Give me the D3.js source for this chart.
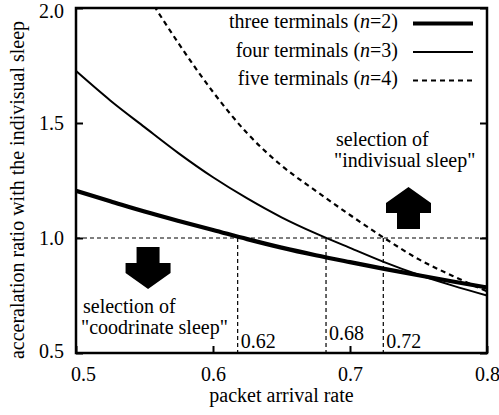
<!DOCTYPE html>
<html>
<head>
<meta charset="utf-8">
<script src="https://cdn.jsdelivr.net/npm/d3@7"></script>
<style>
  html, body { margin: 0; padding: 0; background: #fff; }
  svg { display: block; }
  svg text { font-family: "Liberation Serif", "Times New Roman", Times, "DejaVu Serif", serif; fill: #000; }
</style>
</head>
<body>
<svg id="chart" width="499" height="415"></svg>
<script>
// ---------------- data ----------------
const arrivalRate = [0.500, 0.525, 0.550, 0.575, 0.600, 0.625, 0.650, 0.675, 0.700, 0.725, 0.750, 0.775, 0.800];
const ratioN2 = [1.205, 1.160, 1.115, 1.074, 1.035, 0.995, 0.958, 0.925, 0.895, 0.866, 0.838, 0.811, 0.785];
const ratioN3 = [1.726, 1.598, 1.482, 1.368, 1.264, 1.172, 1.090, 1.020, 0.957, 0.895, 0.840, 0.793, 0.750];
const ratioN4 = [null, null, 2.075, 1.845, 1.635, 1.455, 1.315, 1.205, 1.100, 1.000, 0.908, 0.835, 0.768];
const seriesNames = ["three terminals", "four terminals", "five terminals"];
const seriesN = ["2", "3", "4"];
const xTicks = [0.5, 0.6, 0.7, 0.8];
const yTicks = [0.5, 1.0, 1.5, 2.0];
const thresholdRatio = 1.0;
const crossRates = [0.618, 0.6825, 0.7243];
const crossLabels = ["0.62", "0.68", "0.72"];
const xTitle = "packet arrival rate";
const yTitle = "acceralation ratio with the indivisual sleep";
const noteIndividual = ["selection of", "\"indivisual sleep\""];
const noteCoordinate = ["selection of", "\"coodrinate sleep\""];

// ---------------- layout ----------------
const FONT = "'Liberation Serif', 'Times New Roman', Times, 'DejaVu Serif', serif";
const svg = d3.select("#chart").attr("font-family", FONT);
const L = 76, R = 487, T = 8, B = 353;
const x = d3.scaleLinear().domain([0.5, 0.8]).range([L, R]);
const y = d3.scaleLinear().domain([0.5, 2.0]).range([B, T]);
const FS = 20;

svg.append("defs").append("clipPath").attr("id", "plotclip")
  .append("rect").attr("x", L).attr("y", T).attr("width", R - L).attr("height", B - T);

// reference dashed lines
const g = svg.append("g");
g.append("line")
  .attr("x1", x(0.5)).attr("x2", x(0.8))
  .attr("y1", y(thresholdRatio)).attr("y2", y(thresholdRatio))
  .attr("stroke", "#000").attr("stroke-width", 1.2).attr("stroke-dasharray", "4,3");
g.selectAll(".vref").data(crossRates).join("line")
  .attr("x1", d => x(d)).attr("x2", d => x(d))
  .attr("y1", y(thresholdRatio)).attr("y2", y(0.5))
  .attr("stroke", "#000").attr("stroke-width", 1.2).attr("stroke-dasharray", "4,3");

// curves
const styles = [
  { w: 4.2, dash: null },
  { w: 2, dash: null },
  { w: 2.2, dash: "5,4" }
];
const seriesVals = [ratioN2, ratioN3, ratioN4];
const line = d3.line()
  .defined(d => d[1] != null)
  .x(d => x(d[0])).y(d => y(d[1]))
  .curve(d3.curveMonotoneX);
seriesVals.forEach((vals, i) => {
  const pts = arrivalRate.map((r, k) => [r, vals[k]]);
  svg.append("path")
    .attr("clip-path", "url(#plotclip)")
    .attr("d", line(pts))
    .attr("fill", "none").attr("stroke", "#000")
    .attr("stroke-width", styles[i].w)
    .attr("stroke-dasharray", styles[i].dash);
});

// axes (inward ticks)
const xAxis = svg.append("g").attr("transform", `translate(0,${B})`)
  .call(d3.axisBottom(x).tickValues(xTicks).tickFormat(d3.format(".1f")).tickSize(-7).tickPadding(14));
const yAxis = svg.append("g").attr("transform", `translate(${L},0)`)
  .call(d3.axisLeft(y).tickValues(yTicks).tickFormat(d3.format(".1f")).tickSize(-7).tickPadding(12));
const yAxisR = svg.append("g").attr("transform", `translate(${R},0)`)
  .call(d3.axisRight(y).tickValues(yTicks).tickFormat("").tickSize(-7));
[xAxis, yAxis, yAxisR].forEach(a => {
  a.attr("font-family", FONT).attr("font-size", FS);
  a.select(".domain").remove();
  a.selectAll("line").attr("stroke", "#000").attr("stroke-width", 2);
  a.selectAll("text").attr("fill", "#000");
});
xAxis.selectAll(".tick text").filter(d => d === 0.5).attr("dx", 7);
yAxis.selectAll(".tick text").filter(d => d === 2.0).attr("dy", "0.45em");
yAxis.selectAll(".tick text").filter(d => d === 0.5).attr("dy", "0.22em");

// frame
svg.append("rect").attr("x", L).attr("y", T).attr("width", R - L).attr("height", B - T)
  .attr("fill", "none").attr("stroke", "#000").attr("stroke-width", 2.5);

// axis titles
svg.append("text").attr("x", (L + R) / 2).attr("y", 402)
  .attr("text-anchor", "middle").attr("font-size", FS).text(xTitle);
svg.append("text").attr("transform", `translate(24,${190}) rotate(-90)`)
  .attr("text-anchor", "middle").attr("font-size", FS).text(yTitle);

// crossing labels
const labelDrop = [5, -3, 5];
svg.selectAll(".clab").data(crossLabels).join("text")
  .attr("x", (d, i) => x(crossRates[i]) + 3)
  .attr("y", (d, i) => y(0.5) - 10 + labelDrop[i])
  .attr("font-size", FS).text(d => d);

// legend
const lg = svg.append("g");
seriesNames.forEach((name, i) => {
  const base = 28 + i * 28.5;
  const t = lg.append("text").attr("x", 398).attr("y", base).attr("text-anchor", "end").attr("font-size", FS);
  t.append("tspan").text(name + " (");
  t.append("tspan").attr("font-style", "italic").text("n");
  t.append("tspan").text("=" + seriesN[i] + ")");
  lg.append("line").attr("x1", 413).attr("x2", 473).attr("y1", base - 4.5).attr("y2", base - 4.5)
    .attr("stroke", "#000").attr("stroke-width", styles[i].w)
    .attr("stroke-dasharray", styles[i].dash);
});

// notes
function note(lines, xv, yv) {
  lines.forEach((s, i) => {
    svg.append("text").attr("x", x(xv) - (i ? 2 : 0)).attr("y", y(yv) + i * 21)
      .attr("font-size", FS).text(s);
  });
}
note(noteIndividual, 0.6898, 1.400);
note(noteCoordinate, 0.5051, 0.674);

// block arrows (apex at anchor)
function arrow(xv, yv, dir) {
  const pts = [[0, 0], [22.5, 16], [22.5, 26], [11.5, 26], [11.5, 42], [-11.5, 42], [-11.5, 26], [-22.5, 26], [-22.5, 16]];
  const cx = x(xv), cy = y(yv);
  svg.append("polygon")
    .attr("points", pts.map(p => [cx + p[0], cy + dir * p[1]].join(",")).join(" "))
    .attr("fill", "#000");
}
arrow(0.7427, 1.2217, 1);
arrow(0.5526, 0.7783, -1);
</script>
</body>
</html>
